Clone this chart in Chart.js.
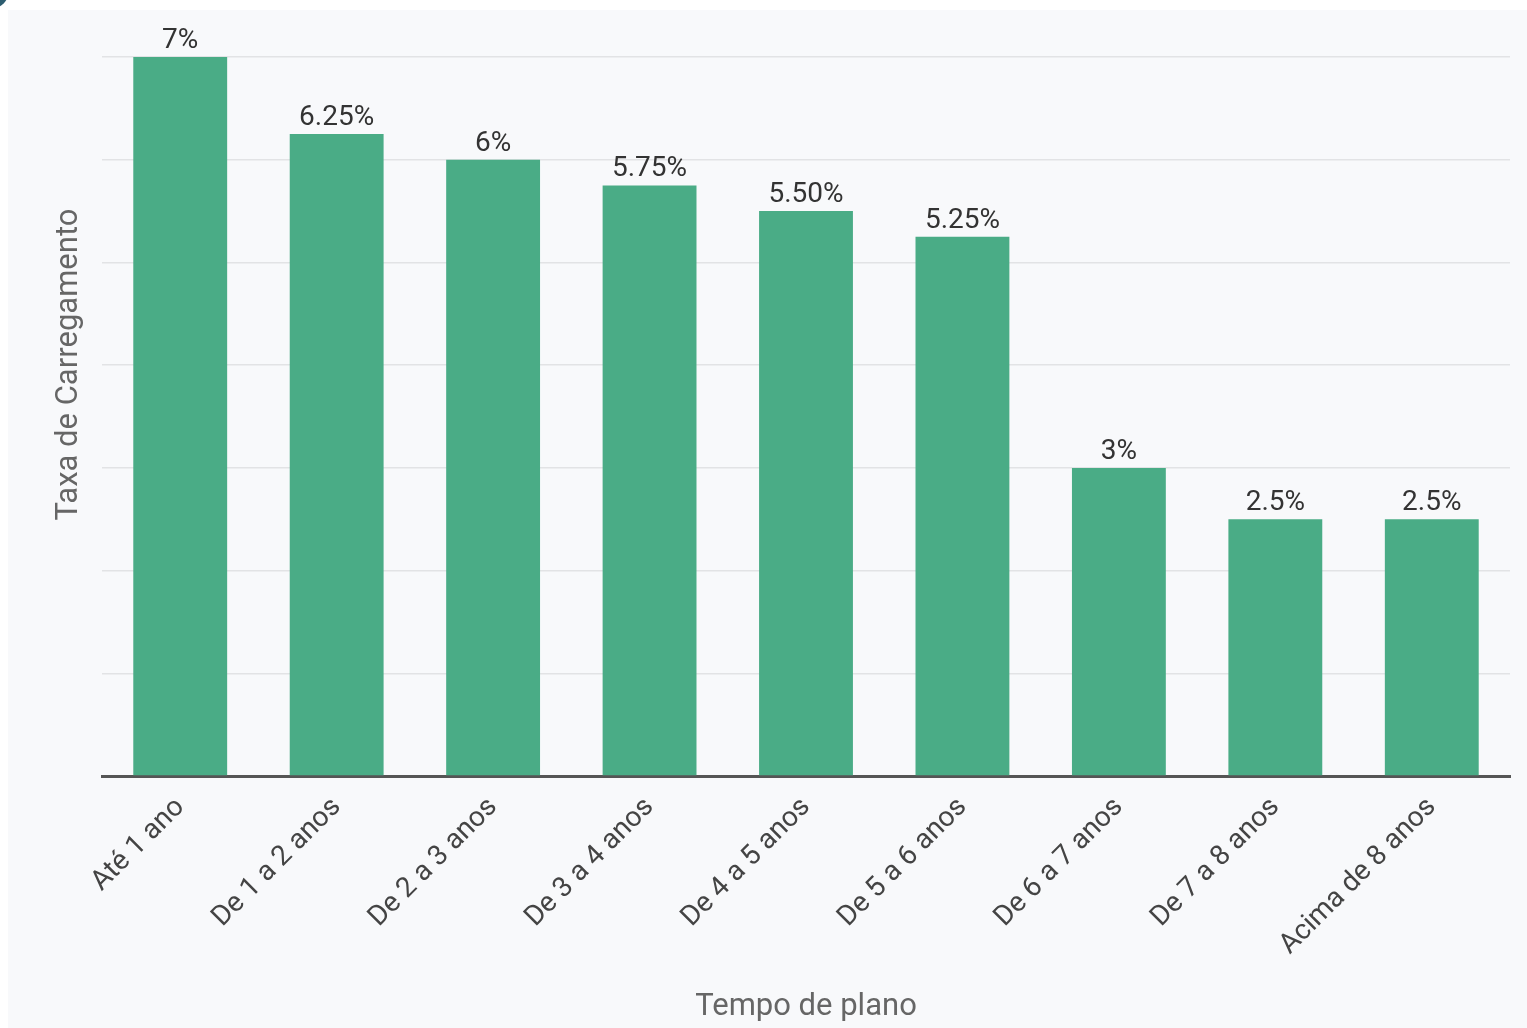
<!DOCTYPE html>
<html>
<head>
<meta charset="utf-8">
<script src="https://cdn.jsdelivr.net/npm/chart.js@4"></script>
<style>
  html, body { margin: 0; padding: 0; background: #fff; width: 1527px; height: 1028px; overflow: hidden; }
  #corner { position: absolute; left: -22px; top: -22px; width: 30px; height: 30px; border-radius: 50%; background: #2d5d70; }
  #wrap { position: absolute; left: 8px; top: 10px; width: 1519px; height: 1018px; background: #f8f9fb; }
</style>
</head>
<body>
<div id="corner"></div>
<div id="wrap"><canvas id="chart"></canvas></div>
<script>
const ctx = document.getElementById('chart');

const categories = ['Até 1 ano', 'De 1 a 2 anos', 'De 2 a 3 anos', 'De 3 a 4 anos', 'De 4 a 5 anos',
                    'De 5 a 6 anos', 'De 6 a 7 anos', 'De 7 a 8 anos', 'Acima de 8 anos'];
const rates = [7, 6.25, 6, 5.75, 5.5, 5.25, 3, 2.5, 2.5];
const rateLabels = ['7%', '6.25%', '6%', '5.75%', '5.50%', '5.25%', '3%', '2.5%', '2.5%'];
const yTitle = 'Taxa de Carregamento';

// value text above each bar + y title (sits a bit above the axis middle)
const barLabels = {
    id: 'barLabels',
    afterDatasetsDraw(chart) {
        const c = chart.ctx;
        const meta = chart.getDatasetMeta(0);
        const area = chart.chartArea;
        c.save();
        c.font = '28px Roboto';
        c.fillStyle = '#333';
        c.textAlign = 'center';
        c.textBaseline = 'alphabetic';
        meta.data.forEach((bar, i) => {
            c.fillText(rateLabels[i], bar.x, bar.y - 9);
        });
        c.translate(area.left - 33, (area.top + area.bottom) / 2 - 52);
        c.rotate(-Math.PI / 2);
        c.font = '31px Roboto';
        c.fillStyle = '#666';
        c.textBaseline = 'middle';
        c.fillText(yTitle, 0, 0);
        c.restore();
    }
};

const config = {
    type: 'bar',
    data: {
        labels: categories,
        datasets: [{
            data: rates,
            backgroundColor: '#4aac86',
            barPercentage: 0.6,
            categoryPercentage: 1.0
        }]
    },
    options: {
        responsive: true,
        maintainAspectRatio: false,
        animation: false,
        layout: {
            padding: { top: 47, right: 17, left: 94, bottom: 2 }
        },
        plugins: {
            legend: { display: false },
            tooltip: { enabled: false }
        },
        scales: {
            x: {
                grid: { display: false, drawTicks: false },
                border: { display: true, color: '#555', width: 3 },
                ticks: {
                    color: '#444',
                    font: { family: 'Roboto', size: 28 },
                    maxRotation: 45,
                    minRotation: 45,
                    padding: 15
                },
                title: {
                    display: true,
                    text: 'Tempo de plano',
                    color: '#666',
                    font: { family: 'Roboto', size: 31 },
                    padding: { top: 12, bottom: 0 }
                }
            },
            y: {
                min: 0,
                max: 7,
                ticks: { display: false, stepSize: 1 },
                grid: { color: '#e2e3e5', lineWidth: 1.5, drawTicks: false },
                border: { display: false }
            }
        }
    },
    plugins: [barLabels]
};

const myChart = new Chart(ctx, config);
</script>
</body>
</html>
